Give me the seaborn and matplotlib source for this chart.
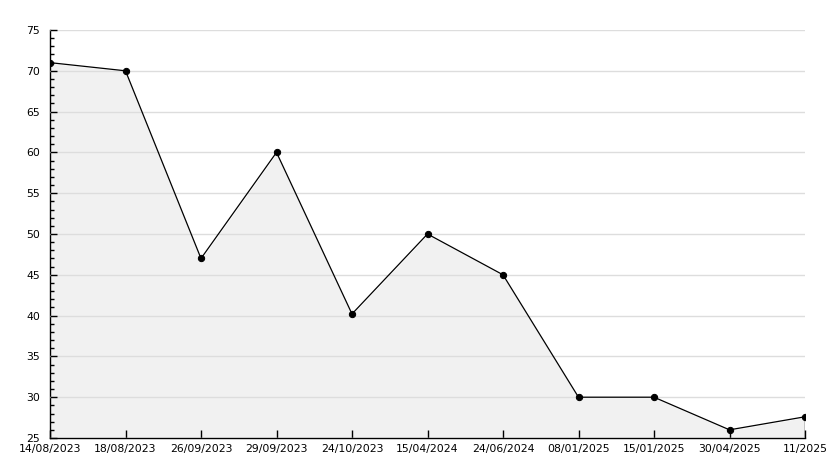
import pandas as pd
import matplotlib.pyplot as plt
import seaborn as sns
from matplotlib.ticker import MultipleLocator

# Data
dates = ["14/08/2023", "18/08/2023", "26/09/2023", "29/09/2023", "24/10/2023",
         "15/04/2024", "24/06/2024", "08/01/2025", "15/01/2025", "30/04/2025",
         "11/2025"]
values = [71, 70, 47, 60, 40.2, 50, 45, 30, 30, 26, 27.6]

df = pd.DataFrame({"idx": range(len(dates)), "date": dates, "value": values})

sns.set_style("white")
plt.rcParams['font.family'] = ['DejaVu Sans']

fig = plt.figure(figsize=(8.34, 4.68), dpi=100)
ax = fig.add_axes([50 / 834, 30 / 468, 755 / 834, 408 / 468])

# Shaded area under the line
ax.fill_between(df["idx"], df["value"], 25, facecolor="#f1f1f1", zorder=1)
# drop line at the last point, like the reference
ax.vlines(df["idx"].iloc[-1], 25, df["value"].iloc[-1], color="black",
          linewidth=1, zorder=2)

sns.lineplot(data=df, x="idx", y="value", ax=ax, color="black", linewidth=0.9,
             marker="o", markersize=4.5, markeredgecolor="black", zorder=3)

ax.set_xlim(0, len(dates) - 1)
ax.set_ylim(25, 75)
ax.set_xticks(df["idx"])
ax.set_xticklabels(dates)
ax.yaxis.set_major_locator(MultipleLocator(5))
ax.yaxis.set_minor_locator(MultipleLocator(1))

ax.grid(axis="y", color="#dddddd", linewidth=1)
ax.set_axisbelow(False)

for side in ["top", "right"]:
    ax.spines[side].set_visible(False)
for side in ["left", "bottom"]:
    ax.spines[side].set_color("black")
    ax.spines[side].set_linewidth(1.0)

ax.tick_params(axis="x", bottom=True, direction="in", length=6, width=1,
               colors="black", labelsize=7.8, pad=4)
ax.tick_params(axis="y", which="major", left=True, direction="in", length=5,
               width=1, colors="black", labelsize=7.8, pad=7)
ax.tick_params(axis="y", which="minor", left=True, direction="in", length=3,
               width=1, colors="black")
ax.set_xlabel("")
ax.set_ylabel("")

fig.savefig("out.png", dpi=100)
plt.close(fig)
